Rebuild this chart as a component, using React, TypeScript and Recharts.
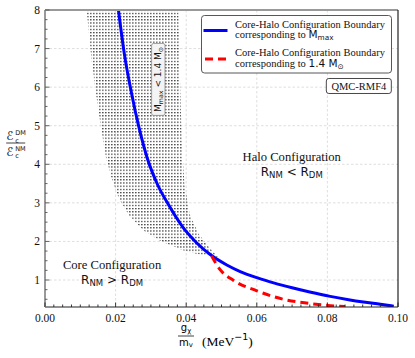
import React from 'react';
import {
  ComposedChart, Line, Area, XAxis, YAxis, CartesianGrid,
  ReferenceLine, ReferenceDot, Legend,
} from 'recharts';

// ---- data ----
const mmaxX = [0.0208, 0.0225, 0.0245, 0.0265, 0.029, 0.032, 0.035, 0.0392, 0.043, 0.0468, 0.0515, 0.0553, 0.06, 0.065, 0.07, 0.075, 0.0808, 0.086, 0.0902, 0.095, 0.0988];
const mmaxY = [8.0, 6.85, 5.85, 5.0, 4.15, 3.45, 2.95, 2.35, 1.96, 1.66, 1.39, 1.22, 1.06, 0.92, 0.8, 0.69, 0.575, 0.49, 0.43, 0.37, 0.32];

const solarX = [0.0472, 0.0496, 0.0534, 0.06, 0.0675, 0.075, 0.08, 0.085];
const solarY = [1.62, 1.27, 0.99, 0.72, 0.5, 0.39, 0.34, 0.31];

const bandX = [0.0118, 0.0132, 0.0145, 0.0158, 0.0172, 0.019, 0.021, 0.024, 0.028, 0.033, 0.0378, 0.0383, 0.0388, 0.0395, 0.041, 0.0435, 0.046, 0.049];
const bandLow = [8.0, 6.7, 5.8, 5.0, 4.2, 3.6, 3.1, 2.65, 2.28, 2.0, 1.82, 1.8, 1.78, 1.76, 1.72, 1.67, 1.63, 1.6];
const bandHigh = [8.0, 8.0, 8.0, 8.0, 8.0, 8.0, 8.0, 8.0, 8.0, 8.0, 8.0, 6.0, 4.5, 3.5, 2.7, 2.2, 1.9, 1.6];

const xMajorTicks = [0, 0.02, 0.04, 0.06, 0.08, 0.1];
const yMajorTicks = [1, 2, 3, 4, 5, 6, 7, 8];
const xMinorStep = 0.0025;
const yMinorStep = 0.25;

const seriesNames = ['Core-Halo Boundary Mmax', 'Core-Halo Boundary 1.4 Msun'];
const legendLine1 = 'Core-Halo Configuration Boundary';
const legendLine2 = 'corresponding to ';

// ---- derived tables ----
const mmaxData = mmaxX.map((x, i) => ({ x, y: mmaxY[i] }));
const solarData = solarX.map((x, i) => ({ x, y: solarY[i] }));
const bandData = bandX.map((x, i) => ({ x, range: [bandLow[i], bandHigh[i]] }));

const xTicks: number[] = [];
for (let k = 0; k <= 40; k++) xTicks.push(+(k * xMinorStep).toFixed(5));
const yTicks: number[] = [];
for (let k = 2; k <= 32; k++) yTicks.push(k * yMinorStep);

const isXMajor = (v: number) => xMajorTicks.some((t) => Math.abs(t - v) < 1e-7);
const isYMajor = (v: number) => yMajorTicks.some((t) => Math.abs(t - v) < 1e-7);

const SERIF = "'Liberation Serif', 'Times New Roman', serif";
const SANS = "'DejaVu Sans', sans-serif";

const XTick = (props: any) => {
  const { x, y, payload } = props;
  const v = payload.value;
  const major = isXMajor(v);
  return (
    <g>
      <line x1={x} x2={x} y1={y} y2={y - (major ? 4.5 : 2.5)} stroke="#222" strokeWidth={0.9} />
      {major && (
        <text x={x} y={y + 14.5} textAnchor="middle" fontFamily={SERIF} fontSize={11.5} fill="#111">
          {v.toFixed(2)}
        </text>
      )}
    </g>
  );
};

const YTick = (props: any) => {
  const { x, y, payload } = props;
  const v = payload.value;
  const major = isYMajor(v);
  return (
    <g>
      <line x1={x} x2={x + (major ? 4.5 : 2.5)} y1={y} y2={y} stroke="#555" strokeWidth={0.9} />
      {major && (
        <text x={x - 5} y={y + 4} textAnchor="end" fontFamily={SERIF} fontSize={11.5} fill="#111">
          {String(v)}
        </text>
      )}
    </g>
  );
};

const XLabel = (props: any) => {
  const vb = props.viewBox || {};
  const cx = vb.x + vb.width / 2;
  const top = vb.y;
  const fx = cx - 35.5;
  return (
    <g>
      <text x={fx} y={top + 24} textAnchor="middle" fontFamily={SANS} fontSize={10}>
        g<tspan fontSize={7} dy={1.5}>χ</tspan>
      </text>
      <line x1={fx - 8} x2={fx + 8} y1={top + 29} y2={top + 29} stroke="#111" strokeWidth={0.8} />
      <text x={fx} y={top + 38.5} textAnchor="middle" fontFamily={SANS} fontSize={10}>
        m<tspan fontSize={7} dy={1.5}>v</tspan>
      </text>
      <text x={fx + 16} y={top + 39} fontFamily={SERIF} fontSize={13.5}>
        (MeV<tspan fontFamily={SANS} fontSize={9.5} dy={-6}>−1</tspan><tspan dy={6}>)</tspan>
      </text>
    </g>
  );
};

const EpsPart = ({ x, y, sup }: { x: number; y: number; sup: string }) => (
  <g>
    <text x={x} y={y} fontFamily={SANS} fontSize={12} fill="#111">ℰ</text>
    <text x={x + 9} y={y + 2.5} fontFamily={SANS} fontSize={6.5} fill="#111">c</text>
    <text x={x + 9} y={y - 5} fontFamily={SANS} fontSize={6.5} fill="#111">{sup}</text>
  </g>
);

const YLabel = () => {
  const cx = 15.7;
  const cy = 143;
  return (
    <g>
      <EpsPart x={cx - 9.5} y={cy - 3} sup="DM" />
      <line x1={cx - 9.5} x2={cx + 9.5} y1={cy} y2={cy} stroke="#111" strokeWidth={0.8} />
      <EpsPart x={cx - 9.5} y={cy + 12.5} sup="NM" />
    </g>
  );
};

const BandLabel = (props: any) => {
  const { x, y } = props.viewBox || {};
  return (
    <g transform={`translate(${x},${y}) rotate(-90)`}>
      <rect x={-36} y={-6.7} width={72} height={13.4} rx={2} fill="#f4f4f4" stroke="#888" strokeWidth={0.8} />
      <text x={0} y={3} textAnchor="middle" fontFamily={SANS} fontSize={9} fill="#111">
        M<tspan fontSize={6.3} dy={2}>max</tspan><tspan dy={-2}> &lt; 1.4 M</tspan><tspan fontSize={6.3} dy={2}>⊙</tspan>
      </text>
    </g>
  );
};

const RegionLabel = (title: string, rel: string) => (props: any) => {
  const { x, y } = props.viewBox || {};
  return (
    <g>
      <text x={x} y={y + 4} textAnchor="middle" fontFamily={SERIF} fontSize={12.6} fill="#111">{title}</text>
      <text x={x} y={y + 19} textAnchor="middle" fontFamily={SANS} fontSize={12} fill="#111">
        R<tspan fontSize={8.5} dy={2}>NM</tspan><tspan dy={-2}> {rel} R</tspan><tspan fontSize={8.5} dy={2}>DM</tspan>
      </text>
    </g>
  );
};

const ModelLabel = (props: any) => {
  const { x, y } = props.viewBox || {};
  return (
    <g>
      <rect x={x - 32.5} y={y - 7.5} width={65} height={15} rx={2.5} fill="#fff" stroke="#333" strokeWidth={0.9} />
      <text x={x} y={y + 3.7} textAnchor="middle" fontFamily={SERIF} fontSize={10.5} fill="#111">QMC-RMF4</text>
    </g>
  );
};

const LegendBox = (props: any) => {
  const items = (props.payload || [])
    .filter((p: any) => p.type !== 'none' && seriesNames.indexOf(p.value) >= 0)
    .slice()
    .sort((a: any, b: any) => seriesNames.indexOf(a.value) - seriesNames.indexOf(b.value));
  return (
    <svg width={192} height={60} style={{ display: 'block' }}>
      <rect x={0.5} y={0.5} width={190} height={57.5} rx={3} fill="#fff" stroke="#444" strokeWidth={0.9} />
      {items.map((it: any, i: number) => {
        const base = i * 28.5;
        const idx = seriesNames.indexOf(it.value);
        const dash = it.payload && it.payload.strokeDasharray;
        return (
          <g key={i}>
            <line x1={dash ? 4 : 2.5} x2={26.5} y1={base + 15.5} y2={base + 15.5} stroke={it.color} strokeWidth={3} strokeDasharray={dash} />
            <text x={34} y={base + 12.5} fontFamily={SERIF} fontSize={10.5} fill="#111">{legendLine1}</text>
            <text x={34} y={base + 23.3} fontFamily={SERIF} fontSize={10.5} fill="#111">
              {legendLine2}
              {idx === 0 ? (
                <tspan fontFamily={SANS} fontSize={10.5}>M<tspan fontSize={7.3} dy={2}>max</tspan></tspan>
              ) : (
                <tspan fontFamily={SANS} fontSize={10.5}>1.4 M<tspan fontSize={7.3} dy={2}>⊙</tspan></tspan>
              )}
            </text>
          </g>
        );
      })}
    </svg>
  );
};

export default function App() {
  return (
    <div style={{ position: 'absolute', left: 0, top: 0, background: '#fff' }}>
      <svg width={0} height={0} style={{ position: 'absolute' }}>
        <defs>
          <pattern id="dotHatch" patternUnits="userSpaceOnUse" width={3} height={3.2}>
            <rect x={0} y={0} width={1.6} height={1.2} fill="#454545" />
          </pattern>
        </defs>
      </svg>
      <ComposedChart width={415} height={358} margin={{ top: 10, right: 17, bottom: 0, left: 0 }}>
        <CartesianGrid
          stroke="#d6d6d6"
          strokeDasharray="2.5 2"
          strokeWidth={0.8}
          verticalValues={[0.02, 0.04, 0.06, 0.08]}
          horizontalValues={[1, 2, 3, 4, 5, 6, 7]}
        />
        <XAxis
          dataKey="x"
          type="number"
          domain={[0, 0.1]}
          ticks={xTicks}
          interval={0}
          allowDataOverflow
          height={51}
          tickSize={0}
          tickMargin={0}
          tickLine={false}
          tick={<XTick />}
          axisLine={{ stroke: '#222', strokeWidth: 1.2 }}
          label={<XLabel />}
        />
        <YAxis
          type="number"
          domain={[0.3, 8]}
          ticks={yTicks}
          interval={0}
          allowDataOverflow
          width={45}
          tickSize={0}
          tickMargin={0}
          tickLine={false}
          tick={<YTick />}
          axisLine={{ stroke: '#999', strokeWidth: 2 }}
          label={<YLabel />}
        />
        <Area
          data={bandData}
          dataKey="range"
          type="linear"
          fill="url(#dotHatch)"
          fillOpacity={1}
          stroke="none"
          legendType="none"
          isAnimationActive={false}
          activeDot={false}
        />
        <Line
          data={mmaxData}
          dataKey="y"
          name={seriesNames[0]}
          type="monotone"
          stroke="#0000ff"
          strokeWidth={3}
          dot={false}
          activeDot={false}
          isAnimationActive={false}
        />
        <Line
          data={solarData}
          dataKey="y"
          name={seriesNames[1]}
          type="monotone"
          stroke="#ff0000"
          strokeWidth={3}
          strokeDasharray="8 5"
          dot={false}
          activeDot={false}
          isAnimationActive={false}
        />
        <ReferenceLine y={8} stroke="#999" strokeWidth={2} />
        <ReferenceLine x={0.1} stroke="#222" strokeWidth={1.2} />
        <ReferenceDot x={0.0321} y={6.2} r={0} fill="none" stroke="none" label={<BandLabel />} />
        <ReferenceDot x={0.0699} y={4.2} r={0} fill="none" stroke="none" label={RegionLabel('Halo Configuration', '<')} />
        <ReferenceDot x={0.019} y={1.39} r={0} fill="none" stroke="none" label={RegionLabel('Core Configuration', '>')} />
        <ReferenceDot x={0.0889} y={6.03} r={0} fill="none" stroke="none" label={<ModelLabel />} />
        <Legend
          content={<LegendBox />}
          layout="vertical"
          align="center"
          verticalAlign="middle"
          wrapperStyle={{ left: 201, top: 14.5, width: 192, height: 60 }}
        />
      </ComposedChart>
    </div>
  );
}
